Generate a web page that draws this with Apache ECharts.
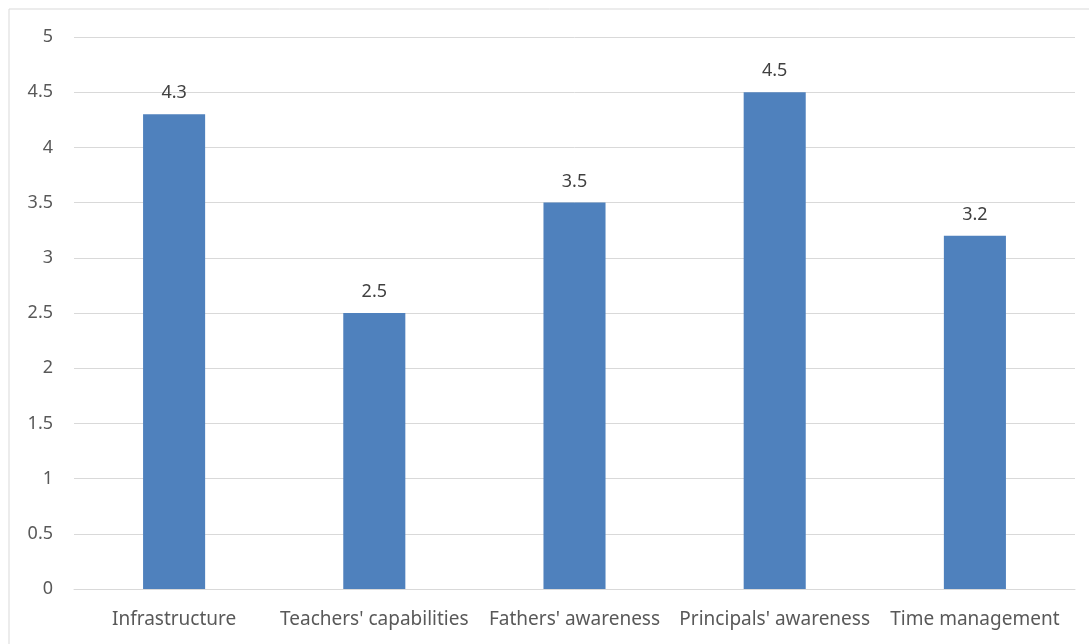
<!DOCTYPE html>
<html>
<head>
<meta charset="utf-8">
<script src="https://cdn.jsdelivr.net/npm/echarts@6/dist/echarts.min.js"></script>
<style>
  html, body { margin: 0; padding: 0; background: #fff; }
  #chart { width: 1089px; height: 644px; }
</style>
</head>
<body>
<div id="chart"></div>
<script>
// Survey factors and their mean scores
const categories = ['Infrastructure', "Teachers' capabilities", "Fathers' awareness", "Principals' awareness", 'Time management'];
const scores = [4.3, 2.5, 3.5, 4.5, 3.2];
const yTicks = [0, 0.5, 1, 1.5, 2, 2.5, 3, 3.5, 4, 4.5, 5];

const chart = echarts.init(document.getElementById('chart'));
chart.setOption({
  animation: false,
  backgroundColor: '#fff',
  graphic: [{
    type: 'rect',
    shape: { x: 9, y: 9, width: 1090, height: 650 },
    style: { fill: 'none', stroke: '#d9d9d9', lineWidth: 1 }
  }],
  grid: { left: 74, right: 14, top: 37, bottom: 55 },
  xAxis: {
    type: 'category',
    data: categories,
    axisLine: { lineStyle: { color: '#d9d9d9' } },
    axisTick: { show: false },
    axisLabel: { color: '#595959', fontSize: 19, fontFamily: 'Noto Sans', margin: 21, interval: 0 }
  },
  yAxis: {
    type: 'value',
    min: yTicks[0],
    max: yTicks[yTicks.length - 1],
    interval: 0.5,
    axisLine: { show: false },
    axisTick: { show: false },
    splitLine: { lineStyle: { color: '#d9d9d9' } },
    axisLabel: { color: '#595959', fontSize: 18, fontFamily: 'Noto Sans', margin: 21 }
  },
  series: [{
    type: 'bar',
    data: scores,
    barWidth: '31%',
    itemStyle: { color: '#4F81BD' },
    label: {
      show: true,
      position: 'top',
      distance: 12,
      color: '#404040',
      fontSize: 18,
      fontFamily: 'Noto Sans'
    }
  }]
});
</script>
</body>
</html>
